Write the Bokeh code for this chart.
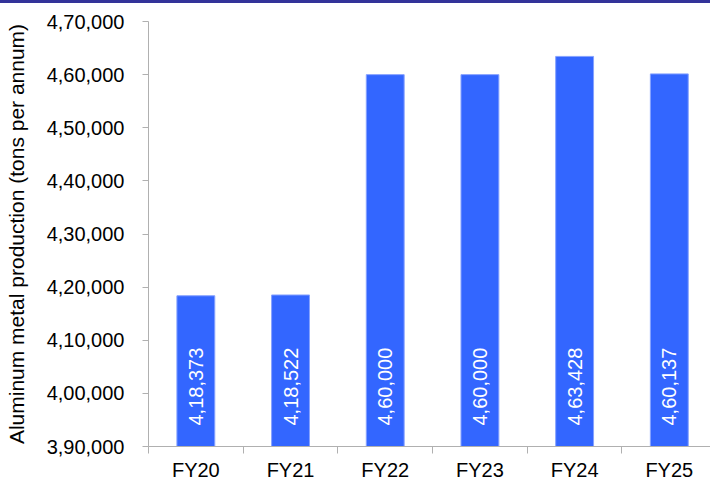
import math
from bokeh.plotting import figure
from bokeh.models import Range1d, FixedTicker, ColumnDataSource, Div
from bokeh.layouts import column
from bokeh.core.properties import value
from bokeh.embed import file_html
from bokeh.resources import INLINE

categories = ["FY20", "FY21", "FY22", "FY23", "FY24", "FY25"]
production = [418373, 418522, 460000, 460000, 463428, 460137]
y_ticks = [390000, 400000, 410000, 420000, 430000, 440000, 450000, 460000, 470000]
y_tick_labels = ["3,90,000", "4,00,000", "4,10,000", "4,20,000", "4,30,000",
                 "4,40,000", "4,50,000", "4,60,000", "4,70,000"]


def indian(n):
    s = str(n)
    last3, rest = s[-3:], s[:-3]
    groups = []
    while len(rest) > 2:
        groups.insert(0, rest[-2:])
        rest = rest[:-2]
    if rest:
        groups.insert(0, rest)
    return ",".join(groups + [last3])


FONT = "Liberation Sans"
xs = [i + 0.5 for i in range(len(categories))]
src = ColumnDataSource(dict(x=xs, top=production, cat=categories,
                            label=[indian(v) for v in production],
                            base=[y_ticks[0]] * len(xs)))

p = figure(frame_width=562, frame_height=425, x_range=Range1d(0, 5.935),
           y_range=Range1d(y_ticks[0], y_ticks[-1]),
           output_backend="svg", toolbar_location=None,
           min_border_left=148, min_border_right=0,
           min_border_top=18, min_border_bottom=0)
p.outline_line_color = None
p.xgrid.visible = False
p.ygrid.visible = False
p.background_fill_color = "white"
p.border_fill_color = "white"

p.vbar(x="x", top="top", bottom="base", width=0.4, source=src,
       fill_color="#3366FF", line_color="#86A2FF", line_width=1)

p.text(x="x", y="base", text="label", source=src, angle=math.pi / 2,
       text_align="left", text_baseline="middle", y_offset=-21,
       text_color="white", text_font=value(FONT), text_font_size="20px")

xa = p.xaxis[0]
xa.ticker = FixedTicker(ticks=xs, minor_ticks=list(range(len(categories) + 1)))
xa.major_label_overrides = {x: c for x, c in zip(xs, categories)}
xa.major_tick_line_color = None
xa.major_tick_out = 0
xa.major_tick_in = 0
xa.minor_tick_out = 7
xa.minor_tick_in = 0
xa.minor_tick_line_color = "#B0B0B0"
xa.axis_line_color = "#B0B0B0"
xa.major_label_standoff = 5
xa.major_label_text_font = FONT
xa.major_label_text_font_size = "20px"
xa.major_label_text_color = "black"

ya = p.yaxis[0]
ya.ticker = FixedTicker(ticks=y_ticks)
ya.major_label_overrides = {t: l for t, l in zip(y_ticks, y_tick_labels)}
ya.major_tick_out = 6
ya.major_tick_in = 0
ya.minor_tick_line_color = None
ya.major_tick_line_color = "#B0B0B0"
ya.axis_line_color = "#B0B0B0"
ya.major_label_standoff = 18
ya.major_label_text_font = FONT
ya.major_label_text_font_size = "20px"
ya.major_label_text_color = "black"
ya.axis_label = "Aluminum metal production (tons per annum)"
ya.axis_label_text_font = FONT
ya.axis_label_text_font_size = "21px"
ya.axis_label_text_font_style = "normal"
ya.axis_label_text_color = "black"
ya.axis_label_standoff = 16

band = Div(text="", width=710, height=3, margin=0,
           styles={"background-color": "#333399"})
layout = column(band, p, spacing=0)

open("out.html", "w").write(file_html(layout, INLINE))
